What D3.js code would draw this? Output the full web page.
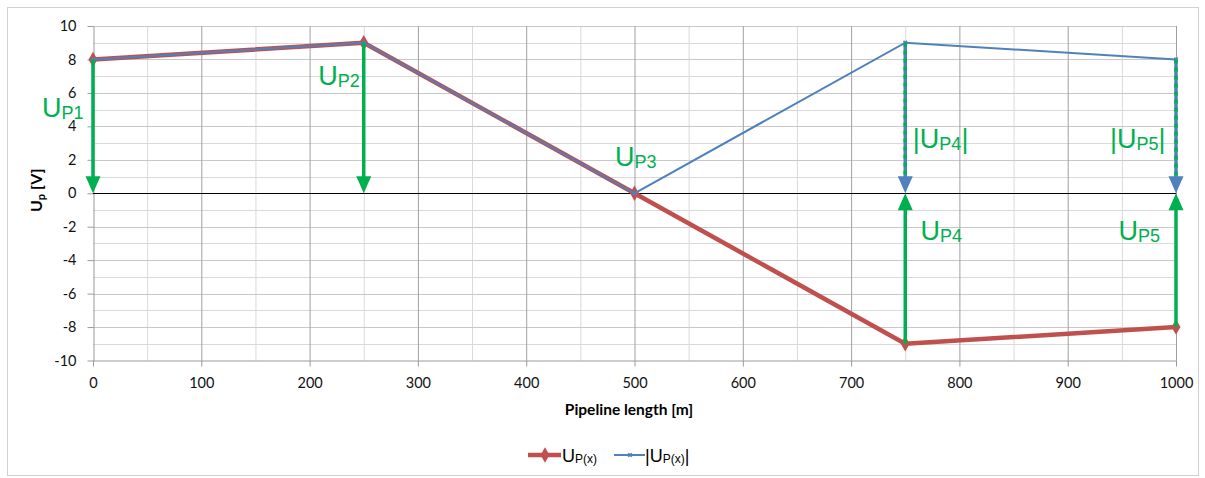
<!DOCTYPE html>
<html>
<head>
<meta charset="utf-8">
<script src="https://cdn.jsdelivr.net/npm/d3@7"></script>
<style>
  html, body { margin: 0; padding: 0; background: #fff; }
  svg { display: block; }
</style>
</head>
<body>
<div id="chart"></div>
<script>
// pipeline positions [m] and potentials [V]
const distances = [0, 250, 500, 750, 1000];
const upValues = [8, 9, 0, -9, -8];
const absUpValues = [8, 9, 0, 9, 8];

const xTicks = [0, 100, 200, 300, 400, 500, 600, 700, 800, 900, 1000];
const xMinor = [50, 150, 250, 350, 450, 550, 650, 750, 850, 950];
const yTicks = [-10, -8, -6, -4, -2, 0, 2, 4, 6, 8, 10];
const yMinor = [-9, -7, -5, -3, -1, 1, 3, 5, 7, 9];

// annotation labels: subscript, whether wrapped in |..|, anchor in data units
const labelSub = ["P1", "P2", "P3", "P4", "P4", "P5", "P5"];
const labelAbs = [false, false, false, true, false, true, false];
const labelX = [-47, 208, 482, 757, 764, 939, 947];
const labelY = [4.55, 6.45, 1.65, 2.7, -2.8, 2.7, -2.8];

const width = 1205, height = 478;
const green = "#00B050", red = "#C0504D", blue = "#4F81BD";

const svg = d3.select("#chart").append("svg")
    .attr("width", width)
    .attr("height", height)
    .style("font-family", "Lato, 'Open Sans', sans-serif");

// chart area border
svg.append("rect")
    .attr("x", 7.5).attr("y", 7.5)
    .attr("width", 1191).attr("height", 468)
    .attr("fill", "#fff")
    .attr("stroke", "#D0D0D0");

const x = d3.scaleLinear().domain([0, 1000]).range([93, 1176]);
const y = d3.scaleLinear().domain([-10, 10]).range([360.5, 26]);

// gridlines
const grid = svg.append("g");
grid.selectAll(".vminor").data(xMinor).join("line")
    .attr("x1", d => x(d) + 0.5).attr("x2", d => x(d) + 0.5)
    .attr("y1", y(10)).attr("y2", y(-10))
    .attr("stroke", "#D9D9D9");
grid.selectAll(".hminor").data(yMinor).join("line")
    .attr("x1", x(0)).attr("x2", x(1000))
    .attr("y1", d => Math.round(y(d)) + 0.5).attr("y2", d => Math.round(y(d)) + 0.5)
    .attr("stroke", "#D9D9D9");
grid.selectAll(".hmajor").data(yTicks.filter(d => d !== 0 && d !== -10)).join("line")
    .attr("x1", x(0)).attr("x2", x(1000))
    .attr("y1", d => Math.round(y(d)) + 0.5).attr("y2", d => Math.round(y(d)) + 0.5)
    .attr("stroke", "#C8C8C8");
grid.selectAll(".vmajor").data(xTicks.filter(d => d !== 0)).join("line")
    .attr("x1", d => x(d) + 0.5).attr("x2", d => x(d) + 0.5)
    .attr("y1", y(10)).attr("y2", y(-10))
    .attr("stroke", "#A0A0A0");

// axes
const fmt = d => String(d);
const yAxis = svg.append("g")
    .attr("transform", `translate(${x(0) + 0.5},0)`)
    .call(d3.axisLeft(y).tickValues(yTicks).tickFormat(fmt).tickSize(6).tickPadding(11).tickSizeOuter(0));
const xAxis = svg.append("g")
    .attr("transform", `translate(0,${y(-10)})`)
    .call(d3.axisBottom(x).tickValues(xTicks).tickFormat(fmt).tickSize(6).tickPadding(11).tickSizeOuter(0));
[yAxis, xAxis].forEach(a => {
  a.selectAll(".domain").attr("stroke", "#9A9A9A");
  a.selectAll(".tick line").attr("stroke", "#9A9A9A");
  a.selectAll("text").attr("fill", "#111").style("font-size", "14.5px")
      .style("font-family", "Lato, sans-serif");
});

// zero line
svg.append("line")
    .attr("x1", x(0)).attr("x2", x(1000))
    .attr("y1", Math.round(y(0)) + 0.5).attr("y2", Math.round(y(0)) + 0.5)
    .attr("stroke", "#000").attr("stroke-width", 1);

// axis titles
svg.append("text")
    .attr("x", 629).attr("y", 415)
    .attr("text-anchor", "middle")
    .style("font-size", "15.5px").style("font-weight", "bold")
    .text("Pipeline length [m]");
const yt = svg.append("text")
    .attr("transform", `translate(42,${y(0) - 3}) rotate(-90)`)
    .attr("text-anchor", "middle")
    .style("font-size", "16px").style("font-weight", "bold");
yt.append("tspan").text("U");
yt.append("tspan").text("p").style("font-size", "11px").attr("dy", 3);
yt.append("tspan").text(" [V]").attr("dy", -3);

// series
const pts = distances.map((d, i) => ({ x: d, up: upValues[i], abs: absUpValues[i] }));
const line = d3.line().x(d => x(d.x));

svg.append("path")
    .datum(pts)
    .attr("d", line.y(d => y(d.up)))
    .attr("fill", "none")
    .attr("stroke", red).attr("stroke-width", 4.5)
    .attr("stroke-linejoin", "round");

svg.selectAll(".dia").data(pts).join("path")
    .attr("transform", d => `translate(${x(d.x)},${y(d.up)})`)
    .attr("d", d3.symbol(d3.symbolDiamond, 70))
    .attr("fill", red);

svg.append("path")
    .datum(pts)
    .attr("d", line.y(d => y(d.abs)))
    .attr("fill", "none")
    .attr("stroke", blue).attr("stroke-width", 2);

svg.selectAll(".cross").data(pts).join("path")
    .attr("transform", d => `translate(${x(d.x)},${y(d.abs)}) rotate(45)`)
    .attr("d", d3.symbol(d3.symbolCross, 14))
    .attr("fill", blue);

// arrows
function arrowHead(px, tipY, dir, color) {
  // dir = +1 pointing down, -1 pointing up
  const w = 7.5, h = 17;
  svg.append("path")
      .attr("d", `M${px - w},${tipY - dir * h} L${px + w},${tipY - dir * h} L${px},${tipY} Z`)
      .attr("fill", color);
}
const zeroY = y(0);
pts.forEach(p => {
  const px = x(p.x);
  if (p.up > 0) {
    svg.append("line")
        .attr("x1", px).attr("x2", px)
        .attr("y1", y(p.up)).attr("y2", zeroY - 14)
        .attr("stroke", green).attr("stroke-width", 3.5);
    arrowHead(px, zeroY, 1, green);
  } else if (p.up < 0) {
    // |U| projected down, dashed blue/green
    svg.append("line")
        .attr("x1", px).attr("x2", px)
        .attr("y1", y(p.abs)).attr("y2", zeroY - 14)
        .attr("stroke", blue).attr("stroke-width", 3.5);
    svg.append("line")
        .attr("x1", px).attr("x2", px)
        .attr("y1", y(p.abs)).attr("y2", zeroY - 14)
        .attr("stroke", green).attr("stroke-width", 3.5)
        .attr("stroke-dasharray", "4,4");
    arrowHead(px, zeroY, 1, blue);
    svg.append("line")
        .attr("x1", px).attr("x2", px)
        .attr("y1", y(p.up)).attr("y2", zeroY + 14)
        .attr("stroke", green).attr("stroke-width", 3.5);
    arrowHead(px, zeroY, -1, green);
  }
});

// annotation labels
labelSub.forEach((s, i) => {
  const t = svg.append("text")
      .attr("x", x(labelX[i])).attr("y", y(labelY[i]))
      .attr("fill", green)
      .style("font-family", "'Liberation Sans', Arial, sans-serif")
      .style("font-size", "27px");
  if (labelAbs[i]) t.append("tspan").text("|");
  t.append("tspan").text("U");
  t.append("tspan").text(s).style("font-size", "18px").attr("dy", 2);
  if (labelAbs[i]) t.append("tspan").text("|").attr("dy", -2);
});

// legend
const lg = svg.append("g").style("font-family", "'Liberation Sans', Arial, sans-serif");
const ly = 455;
lg.append("line").attr("x1", 528).attr("x2", 561).attr("y1", ly).attr("y2", ly)
    .attr("stroke", red).attr("stroke-width", 4.5);
lg.append("path").attr("transform", `translate(545,${ly})`)
    .attr("d", d3.symbol(d3.symbolDiamond, 70)).attr("fill", red);
const t1 = lg.append("text").attr("x", 562).attr("y", ly + 7).style("font-size", "18px");
t1.append("tspan").text("U");
t1.append("tspan").text("P(x)").style("font-size", "12px").attr("dy", 1);

lg.append("line").attr("x1", 614).attr("x2", 645).attr("y1", ly).attr("y2", ly)
    .attr("stroke", blue).attr("stroke-width", 2);
lg.append("path").attr("transform", `translate(630,${ly}) rotate(45)`)
    .attr("d", d3.symbol(d3.symbolCross, 14)).attr("fill", blue);
const t2 = lg.append("text").attr("x", 645).attr("y", ly + 7).style("font-size", "18px");
t2.append("tspan").text("|U");
t2.append("tspan").text("P(x)").style("font-size", "12px").attr("dy", 1);
t2.append("tspan").text("|").attr("dy", -1);
</script>
</body>
</html>
